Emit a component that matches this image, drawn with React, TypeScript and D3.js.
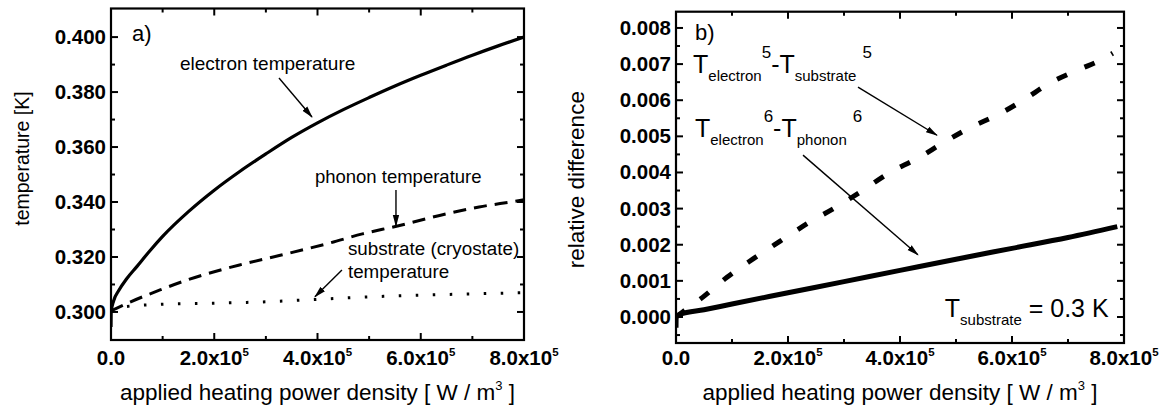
import React from "react";
import * as d3 from "d3";

const W = 1168;
const H = 412;
const FONT = "'Liberation Sans', Arial, Helvetica, sans-serif";

// ---- panel a): temperatures vs. applied heating power density ----
const powerElectron = [0, 300, 5000, 15000, 30000, 50000, 75000, 100000, 150000, 200000, 250000, 300000, 350000, 400000, 450000, 500000, 550000, 600000, 650000, 700000, 750000, 800000];
const tempElectron = [0.2945, 0.3, 0.304, 0.3078, 0.312, 0.3165, 0.3222, 0.3275, 0.3365, 0.3443, 0.3512, 0.3575, 0.3635, 0.3688, 0.3736, 0.378, 0.3822, 0.3861, 0.3898, 0.3934, 0.3968, 0.4];

const powerPhonon = [0, 37000, 95000, 147000, 249000, 330000, 424000, 487000, 553000, 650000, 713000, 777000, 800000];
const tempPhonon = [0.3004, 0.3036, 0.308, 0.3116, 0.3171, 0.3207, 0.3251, 0.3284, 0.3312, 0.3357, 0.3382, 0.3401, 0.3408];

const powerSubstrate = [0, 30000, 100000, 200000, 300000, 380000, 500000, 580000, 700000, 800000];
const tempSubstrate = [0.3, 0.302, 0.3028, 0.3032, 0.3037, 0.3044, 0.3055, 0.306, 0.3066, 0.307];

const tempTicks = [0.3, 0.32, 0.34, 0.36, 0.38, 0.4];
const tempTickLabels = ["0.300", "0.320", "0.340", "0.360", "0.380", "0.400"];
const tempMinorTicks = [0.31, 0.33, 0.35, 0.37, 0.39];

// ---- panel b): relative differences ----
const powerDiff5 = [0, 12000, 48000, 91000, 137000, 186000, 236000, 287000, 329000, 382000, 430000, 477000, 525000, 575000, 620000, 668000, 718000, 766000, 780000];
const diff5 = [0.0, 0.00014, 0.00055, 0.0011, 0.0016, 0.0021, 0.0026, 0.00305, 0.00346, 0.004, 0.00438, 0.00482, 0.00524, 0.0056, 0.006, 0.00648, 0.00684, 0.00717, 0.0073];

const powerDiff6 = [0, 300, 7000, 50000, 100000, 200000, 300000, 400000, 500000, 600000, 700000, 788000];
const diff6 = [-0.0003, 0.0, 0.00007, 0.0002, 0.00036, 0.00067, 0.00098, 0.00129, 0.0016, 0.0019, 0.0022, 0.0025];

const diffTicks = [0, 0.001, 0.002, 0.003, 0.004, 0.005, 0.006, 0.007, 0.008];
const diffTickLabels = ["0.000", "0.001", "0.002", "0.003", "0.004", "0.005", "0.006", "0.007", "0.008"];
const diffMinorTicks = [-0.0005, 0.0005, 0.0015, 0.0025, 0.0035, 0.0045, 0.0055, 0.0065, 0.0075];

// ---- shared power axis ----
const powerTicks = [0, 200000, 400000, 600000, 800000];
const powerTickMantissa = ["0.0", "2.0x10", "4.0x10", "6.0x10", "8.0x10"];
const powerTickExponent = ["", "5", "5", "5", "5"];
const powerMinorTicks = [100000, 300000, 500000, 700000];

// ---- scales ----
const xA = d3.scaleLinear().domain([0, 800000]).range([111, 524]);
const yA = d3.scaleLinear().domain([0.2898, 0.4104]).range([340, 8.5]);
const xB = d3.scaleLinear().domain([0, 800000]).range([676, 1124]);
const yB = d3.scaleLinear().domain([-0.00072, 0.00845]).range([343, 11.7]);

function linePath(xs: number[], ys: number[], x: any, y: any, curve: any = d3.curveMonotoneX) {
  const pts = xs.map((v, i) => [v, ys[i]] as [number, number]);
  return d3.line<[number, number]>().x((d) => x(d[0])).y((d) => y(d[1])).curve(curve)(pts) || "";
}

type FrameProps = {
  x: any;
  y: any;
  yTicks: number[];
  yLabels: string[];
  yMinor: number[];
};

function Frame({ x, y, yTicks, yLabels, yMinor }: FrameProps) {
  const [x0, x1] = x.range();
  const [y1, y0] = y.range();
  const major = 7;
  const minor = 4;
  return (
    <g>
      <rect x={x0} y={y0} width={x1 - x0} height={y1 - y0} fill="none" stroke="#000" strokeWidth={2.2} />
      {powerTicks.map((t, i) => (
        <g key={"xt" + i}>
          <line x1={x(t)} x2={x(t)} y1={y1} y2={y1 - major} stroke="#000" strokeWidth={2} />
          <line x1={x(t)} x2={x(t)} y1={y0} y2={y0 + major} stroke="#000" strokeWidth={2} />
          <text x={x(t)} y={365} textAnchor="middle" fontFamily={FONT} fontWeight="bold" fontSize={20.5}>
            {powerTickMantissa[i]}
            {powerTickExponent[i] && (
              <tspan fontSize={11.5} dy={-9}>
                {powerTickExponent[i]}
              </tspan>
            )}
          </text>
        </g>
      ))}
      {powerMinorTicks.map((t, i) => (
        <g key={"xm" + i}>
          <line x1={x(t)} x2={x(t)} y1={y1} y2={y1 - minor} stroke="#000" strokeWidth={2} />
          <line x1={x(t)} x2={x(t)} y1={y0} y2={y0 + minor} stroke="#000" strokeWidth={2} />
        </g>
      ))}
      {yTicks.map((t, i) => (
        <g key={"yt" + i}>
          <line x1={x0} x2={x0 + major} y1={y(t)} y2={y(t)} stroke="#000" strokeWidth={2} />
          <line x1={x1} x2={x1 - major} y1={y(t)} y2={y(t)} stroke="#000" strokeWidth={2} />
          <text x={x0 - 5} y={y(t) + 7} textAnchor="end" fontFamily={FONT} fontWeight="bold" fontSize={20.5}>
            {yLabels[i]}
          </text>
        </g>
      ))}
      {yMinor.map((t, i) => (
        <g key={"ym" + i}>
          <line x1={x0} x2={x0 + minor} y1={y(t)} y2={y(t)} stroke="#000" strokeWidth={2} />
          <line x1={x1} x2={x1 - minor} y1={y(t)} y2={y(t)} stroke="#000" strokeWidth={2} />
        </g>
      ))}
      <text x={(x0 + x1) / 2} y={400} textAnchor="middle" fontFamily={FONT} fontSize={22.5}>
        applied heating power density [ W / m
        <tspan fontSize={13} dy={-10}>3</tspan>
        <tspan dy={10}> ]</tspan>
      </text>
    </g>
  );
}

function Arrow({ x1, y1, x2, y2 }: { x1: number; y1: number; x2: number; y2: number }) {
  return <line x1={x1} y1={y1} x2={x2} y2={y2} stroke="#000" strokeWidth={1.4} markerEnd="url(#arrowHead)" />;
}

export default function App() {
  return (
    <svg
      width={W}
      height={H}
      viewBox={`0 0 ${W} ${H}`}
      style={{ position: "absolute", left: 0, top: 0, background: "#fff" }}
    >
      <defs>
        <marker id="arrowHead" markerUnits="userSpaceOnUse" markerWidth={12} markerHeight={8} refX={11} refY={4} orient="auto">
          <path d="M0,0.8 L12,4 L0,7.2 Z" fill="#000" />
        </marker>
        <clipPath id="clipA">
          <rect x={111} y={8.5} width={413} height={331.5} />
        </clipPath>
        <clipPath id="clipB">
          <rect x={676} y={11.7} width={448} height={331.3} />
        </clipPath>
      </defs>
      <rect x={0} y={0} width={W} height={H} fill="#fff" />

      {/* panel a) */}
      <g clipPath="url(#clipA)">
        <path d={linePath(powerSubstrate, tempSubstrate, xA, yA)} fill="none" stroke="#000" strokeWidth={3} strokeDasharray="2.5 14.5" />
        <path d={linePath(powerPhonon, tempPhonon, xA, yA)} fill="none" stroke="#000" strokeWidth={3} strokeDasharray="13 8" />
        <path d={linePath(powerElectron, tempElectron, xA, yA)} fill="none" stroke="#000" strokeWidth={3.2} strokeLinejoin="round" />
      </g>
      <Frame x={xA} y={yA} yTicks={tempTicks} yLabels={tempTickLabels} yMinor={tempMinorTicks} />
      <text transform={`translate(29,${yA(0.35) - 16}) rotate(-90)`} textAnchor="middle" fontFamily={FONT} fontSize={19.5}>
        temperature [K]
      </text>
      <text x={xA(40700)} y={yA(0.3985)} fontFamily={FONT} fontSize={22}>a)</text>
      <text x={xA(133600)} y={yA(0.388)} fontFamily={FONT} fontSize={19}>electron temperature</text>
      <Arrow x1={xA(325400)} y1={yA(0.3851)} x2={xA(389300)} y2={yA(0.3709)} />
      <text x={xA(395000)} y={yA(0.3469)} fontFamily={FONT} fontSize={18.5}>phonon temperature</text>
      <Arrow x1={xA(552000)} y1={yA(0.3444)} x2={xA(552000)} y2={yA(0.3313)} />
      <text x={xA(459000)} y={yA(0.3207)} fontFamily={FONT} fontSize={18.8}>substrate (cryostate)</text>
      <text x={xA(459000)} y={yA(0.3124)} fontFamily={FONT} fontSize={18.8}>temperature</text>
      <Arrow x1={xA(447400)} y1={yA(0.3153)} x2={xA(395000)} y2={yA(0.3055)} />

      {/* panel b) */}
      <g clipPath="url(#clipB)">
        <path d={linePath(powerDiff5, diff5, xB, yB)} fill="none" stroke="#000" strokeWidth={5} strokeDasharray="11 19" />
        <path d={linePath(powerDiff6, diff6, xB, yB)} fill="none" stroke="#000" strokeWidth={5} strokeLinejoin="round" />
      </g>
      <Frame x={xB} y={yB} yTicks={diffTicks} yLabels={diffTickLabels} yMinor={diffMinorTicks} />
      <text transform={`translate(584,${yB(0.0038)}) rotate(-90)`} textAnchor="middle" fontFamily={FONT} fontSize={22.5}>
        relative difference
      </text>
      <text x={xB(33900)} y={yB(0.00766)} fontFamily={FONT} fontSize={22}>b)</text>

      <text x={xB(30400)} y={yB(0.00675)} fontFamily={FONT} fontSize={25}>
        T<tspan fontSize={15} dy={8}>electron</tspan>
        <tspan fontSize={17} dy={-23}>5</tspan>
        <tspan dy={15}>-T</tspan>
        <tspan fontSize={15} dy={8}>substrate</tspan>
        <tspan fontSize={17} dy={-23} dx={6}>5</tspan>
      </text>
      <Arrow x1={xB(325000)} y1={yB(0.00636)} x2={xB(466000)} y2={yB(0.00503)} />

      <text x={xB(33900)} y={yB(0.00498)} fontFamily={FONT} fontSize={25}>
        T<tspan fontSize={15} dy={8}>electron</tspan>
        <tspan fontSize={17} dy={-23}>6</tspan>
        <tspan dy={15}>-T</tspan>
        <tspan fontSize={15} dy={8}>phonon</tspan>
        <tspan fontSize={17} dy={-23} dx={6}>6</tspan>
      </text>
      <Arrow x1={xB(226800)} y1={yB(0.00448)} x2={xB(432000)} y2={yB(0.00172)} />

      <text x={xB(480000)} y={yB(0.0)} fontFamily={FONT} fontSize={25}>
        T<tspan fontSize={15} dy={8}>substrate</tspan>
        <tspan dy={-8}> = 0.3 K</tspan>
      </text>
    </svg>
  );
}
